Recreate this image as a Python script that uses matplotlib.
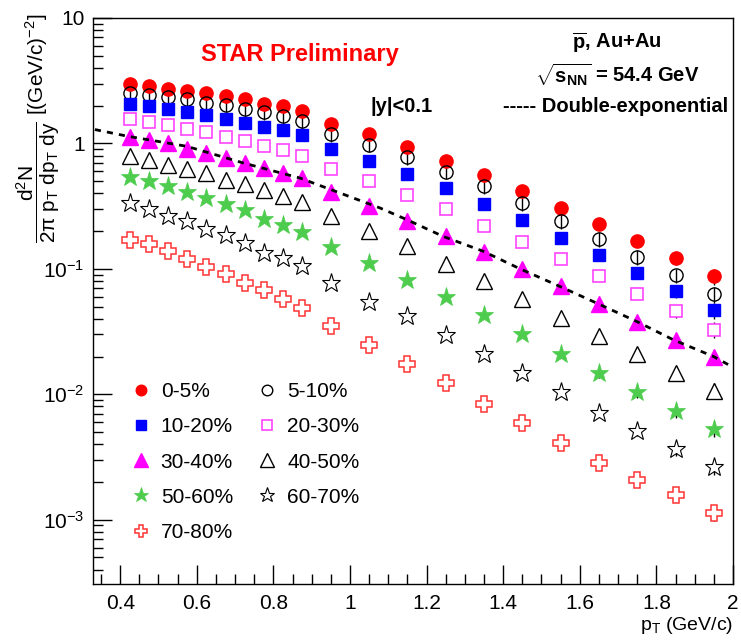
import matplotlib
matplotlib.use('Agg')
import matplotlib.pyplot as plt
import numpy as np
from matplotlib.lines import Line2D
from matplotlib.ticker import FixedLocator, FixedFormatter, MultipleLocator, LogLocator, NullFormatter

plt.rcParams['font.family'] = ['Liberation Sans', 'DejaVu Sans']
plt.rcParams['mathtext.fontset'] = 'custom'
plt.rcParams['mathtext.rm'] = 'Liberation Sans'
plt.rcParams['mathtext.it'] = 'Liberation Sans'
plt.rcParams['mathtext.sf'] = 'Liberation Sans'
plt.rcParams['mathtext.bf'] = 'Liberation Sans:bold'

# pT bin centres (GeV/c)
pt = [0.425, 0.475, 0.525, 0.575, 0.625, 0.675, 0.725, 0.775, 0.825, 0.875,
      0.95, 1.05, 1.15, 1.25, 1.35, 1.45, 1.55, 1.65, 1.75, 1.85, 1.95]

# spectra per centrality class
y_0_5 = [2.99, 2.86, 2.74, 2.64, 2.53, 2.38, 2.24, 2.08, 1.97, 1.83,
         1.43, 1.18, 0.94, 0.72, 0.556, 0.416, 0.307, 0.229, 0.167, 0.121, 0.087]
y_5_10 = [2.53, 2.44, 2.33, 2.24, 2.11, 2.01, 1.87, 1.77, 1.65, 1.50,
          1.18, 0.973, 0.774, 0.595, 0.455, 0.333, 0.241, 0.173, 0.124, 0.0886, 0.0625]
y_10_20 = [2.07, 1.97, 1.89, 1.78, 1.68, 1.57, 1.46, 1.35, 1.27, 1.16,
           0.905, 0.729, 0.574, 0.438, 0.327, 0.243, 0.176, 0.128, 0.0919, 0.0665, 0.0466]
y_20_30 = [1.57, 1.49, 1.41, 1.31, 1.24, 1.13, 1.05, 0.96, 0.887, 0.795,
           0.629, 0.502, 0.388, 0.300, 0.221, 0.164, 0.120, 0.087, 0.0633, 0.0457, 0.0328]
y_30_40 = [1.12, 1.07, 1.00, 0.904, 0.84, 0.766, 0.699, 0.637, 0.581, 0.530,
           0.407, 0.315, 0.242, 0.184, 0.136, 0.0998, 0.0733, 0.0524, 0.0378, 0.0269, 0.0199]
y_40_50 = [0.799, 0.742, 0.677, 0.629, 0.577, 0.514, 0.475, 0.422, 0.378, 0.339,
           0.262, 0.199, 0.151, 0.110, 0.0793, 0.0574, 0.0409, 0.0292, 0.0209, 0.0149, 0.0107]
y_50_60 = [0.540, 0.498, 0.455, 0.412, 0.367, 0.329, 0.292, 0.250, 0.224, 0.198,
           0.149, 0.111, 0.0818, 0.0593, 0.0425, 0.0302, 0.0210, 0.0147, 0.0104, 0.00737, 0.0053]
y_60_70 = [0.335, 0.300, 0.265, 0.239, 0.208, 0.185, 0.161, 0.134, 0.122, 0.1045,
           0.077, 0.0549, 0.0417, 0.0298, 0.0210, 0.0147, 0.0104, 0.00714, 0.00513, 0.00365, 0.00265]
y_70_80 = [0.171, 0.159, 0.138, 0.120, 0.104, 0.0909, 0.0775, 0.0672, 0.0570, 0.0487,
           0.0351, 0.0248, 0.0175, 0.0123, 0.00838, 0.00588, 0.00412, 0.00285, 0.00207, 0.00157, 0.00114]

# relative errors per pT bin (approximate)
rel_err = [0.03, 0.03, 0.03, 0.03, 0.03, 0.03, 0.03, 0.03, 0.03, 0.03,
           0.04, 0.04, 0.04, 0.05, 0.05, 0.06, 0.07, 0.08, 0.10, 0.12, 0.14]

# double-exponential fit curve
fit_pt = [0.334, 0.420, 0.574, 0.721, 0.869, 1.078, 1.148, 1.244, 1.348,
          1.444, 1.548, 1.644, 1.749, 1.844, 1.949, 1.988]
fit_y = [1.29, 1.14, 0.948, 0.699, 0.530, 0.306, 0.247, 0.181, 0.138,
         0.100, 0.0724, 0.0533, 0.038, 0.0272, 0.020, 0.0172]

labels = ['0-5%', '5-10%', '10-20%', '20-30%', '30-40%', '40-50%', '50-60%', '60-70%', '70-80%']
series = [y_0_5, y_5_10, y_10_20, y_20_30, y_30_40, y_40_50, y_50_60, y_60_70, y_70_80]

# marker, edge colour, face colour, size, edge width
styles = [
    ('o', '#ff0000', '#ff0000', 9.5, 1.0),
    ('o', '#000000', 'none', 9.5, 1.0),
    ('s', '#0000ff', '#0000ff', 8.5, 1.0),
    ('s', '#ff44ff', 'white', 8.5, 1.2),
    ('^', '#ff00ff', '#ff00ff', 12, 1.0),
    ('^', '#000000', 'white', 12, 1.0),
    ('*', '#4dcc4d', '#4dcc4d', 14, 0.5),
    ('*', '#000000', 'white', 14, 0.8),
    ('P', '#ff3333', 'white', 11, 1.1),
]

fig = plt.figure(figsize=(7.41, 6.42), dpi=100)
ax = fig.add_axes([93 / 741, 1 - 584 / 642, (733 - 93) / 741, (584 - 18) / 642])
ax.set_yscale('log')

x = np.array(pt)
err = np.array(rel_err)
handles = []
for ys, lab, (m, ec, fc, ms, mew) in zip(series, labels, styles):
    y = np.array(ys)
    e = err if lab != '5-10%' else np.maximum(err, 0.13)
    ax.errorbar(x, y, yerr=y * e, fmt='none', ecolor='black', elinewidth=1.0, capsize=0, zorder=2)
    ax.plot(x, y, linestyle='none', marker=m, markersize=ms, markeredgecolor=ec,
            markerfacecolor=fc, markeredgewidth=mew, zorder=3)
    handles.append(Line2D([], [], linestyle='none', marker=m, markersize=ms * 0.8,
                          markeredgecolor=ec, markerfacecolor=fc, markeredgewidth=mew, label=lab))

ax.plot(fit_pt, fit_y, color='black', linestyle=(0, (2.2, 2.2)), linewidth=2.0, zorder=4)

ax.set_xlim(0.329, 2.0)
ax.set_ylim(3.07e-4, 10)

ax.xaxis.set_major_locator(FixedLocator([0.4, 0.6, 0.8, 1.0, 1.2, 1.4, 1.6, 1.8, 2.0]))
ax.xaxis.set_major_formatter(FixedFormatter(['0.4', '0.6', '0.8', '1', '1.2', '1.4', '1.6', '1.8', '2']))
ax.xaxis.set_minor_locator(MultipleLocator(0.05))
ax.yaxis.set_major_locator(FixedLocator([1e-3, 1e-2, 1e-1, 1, 10]))
ax.yaxis.set_major_formatter(FixedFormatter([r'$10^{-3}$', r'$10^{-2}$', r'$10^{-1}$', '1', '10']))
ax.yaxis.set_minor_locator(LogLocator(base=10, subs=np.arange(2, 10)))
ax.yaxis.set_minor_formatter(NullFormatter())

ax.tick_params(which='both', direction='in', top=False, right=False, labelsize=15)
ax.tick_params(which='major', length=14, width=1.0)
ax.tick_params(which='minor', length=7, width=1.0)
ax.tick_params(axis='x', pad=7)
ax.tick_params(axis='y', pad=6)
for s in ax.spines.values():
    s.set_linewidth(1.0)

# legend
order = [0, 2, 4, 6, 8, 1, 3, 5, 7]
ax.legend([handles[i] for i in order], [labels[i] for i in order], ncol=2, frameon=False,
          loc='upper left', bbox_to_anchor=(0.026, 0.39), fontsize=15,
          handletextpad=0.35, columnspacing=1.05, labelspacing=0.78, handlelength=1.2)

# annotations
fig.text(300 / 741, 1 - 55 / 642, 'STAR Preliminary', color='#ff0000', fontsize=17,
         fontweight='bold', ha='center', va='center')
fig.text(617 / 741, 1 - 43 / 642, r'$\mathbf{\overline{p}}$, Au+Au', fontsize=14.5,
         fontweight='bold', ha='center', va='center')
fig.text(617 / 741, 1 - 75 / 642, r'$\mathbf{\sqrt{s_{NN}}}$ = 54.4 GeV', fontsize=14.5,
         fontweight='bold', ha='center', va='center')
fig.text(728 / 741, 1 - 107 / 642, '----- Double-exponential', fontsize=14.5,
         fontweight='bold', ha='right', va='center')
fig.text(402 / 741, 1 - 107 / 642, '|y|<0.1', fontsize=14.5, fontweight='bold',
         ha='center', va='center')

fig.text(38 / 741, 1 - 14 / 642,
         r'$\dfrac{\mathrm{d^{2}N}}{2\pi\ \mathrm{p_{T}\ dp_{T}\ dy}}$ [(GeV/c)$^{-2}$]',
         rotation=90, fontsize=15, ha='center', va='top')
fig.text(733 / 741, 1 - 625 / 642, r'p$_{\mathrm{T}}$ (GeV/c)', fontsize=14,
         ha='right', va='center')

fig.savefig('out.png', dpi=100)
